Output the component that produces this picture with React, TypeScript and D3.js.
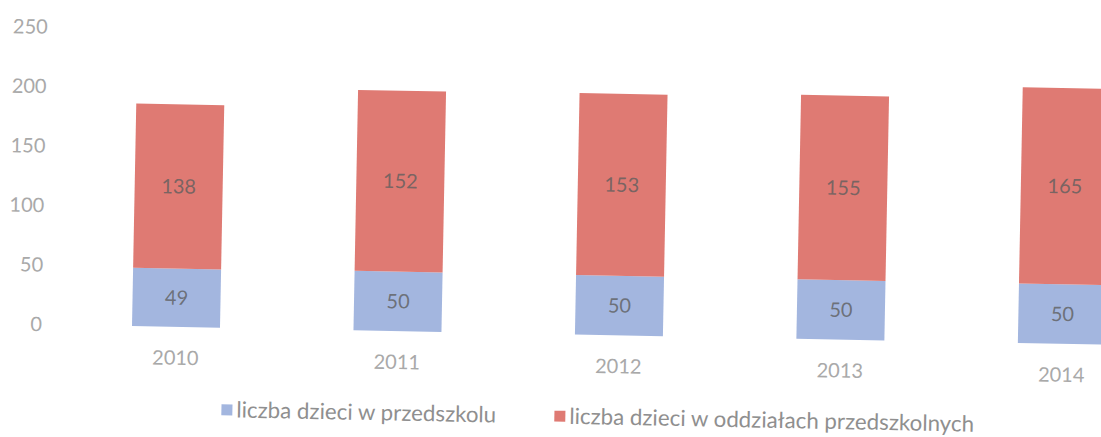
import React, { useEffect, useRef } from "react";
import * as d3 from "d3";

const years = ["2010", "2011", "2012", "2013", "2014"];
const przedszkole = [49, 50, 50, 50, 50];
const oddzialy = [138, 152, 153, 155, 165];
const yTicks = [0, 50, 100, 150, 200, 250];
const seriesNames = [
  "liczba dzieci w przedszkolu",
  "liczba dzieci w oddziałach przedszkolnych",
];
const colors = ["#a3b6df", "#df7a73"];

const W = 1101;
const H = 437;

const App = () => {
  const ref = useRef<SVGSVGElement | null>(null);

  useEffect(() => {
    const svg = d3.select(ref.current);
    svg.selectAll("*").remove();

    // scanned page is slightly tilted clockwise
    const g = svg
      .append("g")
      .attr("transform", "translate(132,326) rotate(1.1)");

    const step = 221.5;
    const x = d3
      .scaleBand()
      .domain(years)
      .range([-(step - 88) / 2, -(step - 88) / 2 + step * years.length])
      .paddingInner(1 - 88 / step)
      .paddingOuter((1 - 88 / step) / 2);

    const y = d3.scaleLinear().domain([0, 250]).range([0, -297.5]);

    const font = "Lato, 'Open Sans', sans-serif";

    // y axis labels
    g.selectAll(".ytick")
      .data(yTicks)
      .enter()
      .append("text")
      .attr("x", -90)
      .attr("y", (d) => y(d))
      .attr("dy", "0.35em")
      .attr("text-anchor", "end")
      .attr("font-family", font)
      .attr("font-size", 20)
      .attr("fill", "#a9a9a9")
      .text((d) => d);

    const rows = years.map((yr, i) => ({
      year: yr,
      a: przedszkole[i],
      b: oddzialy[i],
    }));

    // blue segment
    g.selectAll(".barA")
      .data(rows)
      .enter()
      .append("rect")
      .attr("x", (d) => x(d.year)!)
      .attr("width", x.bandwidth())
      .attr("y", (d) => y(d.a))
      .attr("height", (d) => y(0) - y(d.a))
      .attr("fill", colors[0]);

    // red segment
    g.selectAll(".barB")
      .data(rows)
      .enter()
      .append("rect")
      .attr("x", (d) => x(d.year)!)
      .attr("width", x.bandwidth())
      .attr("y", (d) => y(d.a + d.b))
      .attr("height", (d) => y(d.a) - y(d.a + d.b))
      .attr("fill", colors[1]);

    // value labels
    const labelStyle = (sel: any) =>
      sel
        .attr("text-anchor", "middle")
        .attr("dy", "0.35em")
        .attr("font-family", font)
        .attr("font-size", 20)
        .attr("fill", "#5e5e5e")
        .attr("fill-opacity", 0.8);

    g.selectAll(".lblA")
      .data(rows)
      .enter()
      .append("text")
      .attr("x", (d) => x(d.year)! + x.bandwidth() / 2)
      .attr("y", (d) => y(d.a / 2))
      .call(labelStyle)
      .text((d) => d.a);

    g.selectAll(".lblB")
      .data(rows)
      .enter()
      .append("text")
      .attr("x", (d) => x(d.year)! + x.bandwidth() / 2)
      .attr("y", (d) => y(d.a + d.b / 2))
      .call(labelStyle)
      .text((d) => d.b);

    // category labels
    g.selectAll(".xtick")
      .data(years)
      .enter()
      .append("text")
      .attr("x", (d) => x(d)! + x.bandwidth() / 2)
      .attr("y", 31)
      .attr("dy", "0.35em")
      .attr("text-anchor", "middle")
      .attr("font-family", font)
      .attr("font-size", 20)
      .attr("fill", "#a9a9a9")
      .text((d) => d);

    // legend
    const legendX = [91, 424];
    const lg = g
      .selectAll(".legend")
      .data(seriesNames)
      .enter()
      .append("g")
      .attr("transform", (d, i) => `translate(${legendX[i]},82)`);

    lg.append("rect")
      .attr("x", 0)
      .attr("y", -5.5)
      .attr("width", 11)
      .attr("height", 11)
      .attr("fill", (d, i) => colors[i]);

    lg.append("text")
      .attr("x", 15)
      .attr("y", 7.5)
      .attr("font-family", font)
      .attr("font-size", 22.3)
      .attr("fill", "#8f8f8f")
      .text((d) => d);
  }, []);

  return (
    <svg
      ref={ref}
      width={W}
      height={H}
      style={{ position: "absolute", left: 0, top: 0, background: "#fff" }}
    />
  );
};

export default App;
